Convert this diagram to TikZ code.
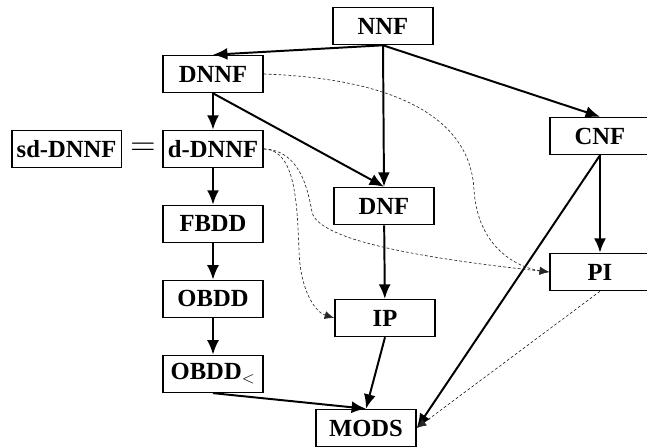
\documentclass[tikz,border=0pt]{standalone}
\usepackage{fontspec}
\setmainfont{Liberation Serif}
\usetikzlibrary{positioning, arrows.meta}
\tikzset{arco/.style={line width=1.4pt, -{Latex[length=3.6mm,width=3mm]}}}
\tikzset{punteado/.style={line width=0.45pt, gray!30!black, dash pattern=on 2pt off 1.5pt, -{Latex[length=2.4mm,width=2mm]}}}
\usepackage{amsmath,amssymb}

\begin{document}
\begin{tikzpicture}[
            x = 0.025cm, y = -0.025cm,
            every node/.style={draw, line width=1.1pt, minimum width=2.5cm, minimum height=0.925cm,
                inner xsep=3.5pt, inner ysep=2pt, font=\bfseries\fontsize{17.5}{18}\selectfont}
        ]
            \useasboundingbox (0,0) rectangle (647,447);

            \node[](nnf) at (383,26) {NNF};
            \node[](dnnf) at (213,74) {DNNF};
            \node[below= 0.91cm of dnnf] (ddnnf) {d-DNNF};
            \node[below= 0.91cm of ddnnf] (fbdd) {FBDD};
            \node[below= 0.91cm of fbdd] (obdd) {OBDD};
            \node[below= 0.91cm of obdd] (obddm) {OBDD$_<$};
            \node[left= 1cm of ddnnf] (sddnnf) {sd-DNNF};
            \node[draw=none, minimum width=1cm, inner sep=0pt, font=\fontsize{30}{30}\selectfont,
                right= 0pt of sddnnf] (igual) {$=$};
            \node[] (dnf) at (384,206) {DNF};
            \node[] (ip) at (385,318) {IP};
            \node[] (cnf) at (600,136) {CNF};
            \node[] (pi) at (600,272) {PI};
            \node[] (mods) at (366,428) {MODS};

            \draw[arco] (nnf.south) to [] (dnnf.north);
            \draw[arco] (nnf.south) to [] (dnf.north);
            \draw[arco] (nnf.south) to [] (cnf.north);
            \draw[arco] (dnnf) to [] (ddnnf);
            \draw[arco] (dnnf.south) to [] (dnf.north);
            \draw[arco] (ddnnf) to [] (fbdd);
            \draw[arco] (fbdd) to [] (obdd);
            \draw[arco] (obdd) to [] (obddm);
            \draw[arco] (obddm.south) to [] (mods.north);
            \draw[arco] (dnf) to [] (ip);
            \draw[arco] (ip.south) to [] (mods.north);
            \draw[arco] (cnf) to [] (pi);
            \draw[arco] (cnf.south) to [] (mods.east);

            \draw[punteado] (dnnf.east) .. controls (380,78) and (470,110) .. (474,190)
                .. controls (478,250) and (520,268) .. (pi.west);
            \draw[punteado] (ddnnf.east) .. controls (300,150) and (308,190) .. (312,212)
                .. controls (318,240) and (420,258) .. (pi.west);
            \draw[punteado] (ddnnf.east) .. controls (295,150) and (297,200) .. (299,250)
                .. controls (300,290) and (315,312) .. (ip.west);
            \draw[punteado] (pi.south) to [] (mods.east);
        \end{tikzpicture}
\end{document}
